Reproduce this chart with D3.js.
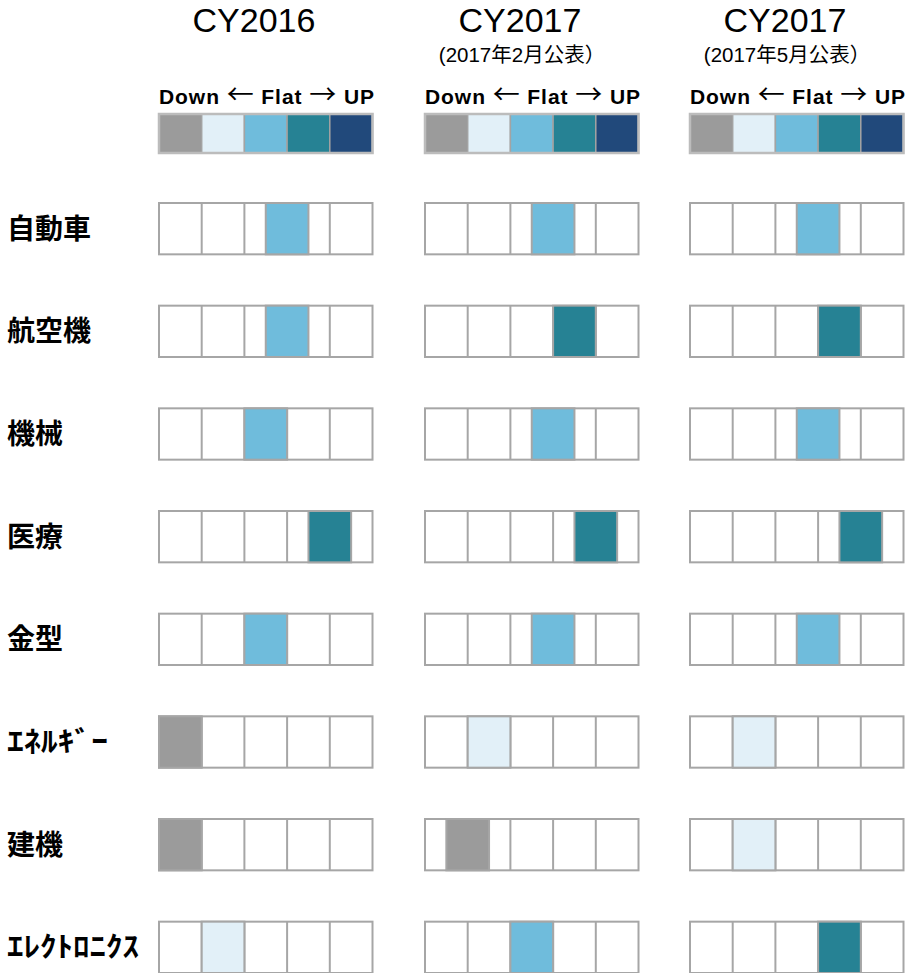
<!DOCTYPE html>
<html>
<head>
<meta charset="utf-8">
<script src="https://cdn.jsdelivr.net/npm/d3@7"></script>
<style>
  body { margin: 0; background: #fff; }
</style>
</head>
<body>
<svg class="chart_svg"></svg>
<script>
// rows (industries)
var categories = ["自動車", "航空機", "機械", "医療", "金型", "ｴﾈﾙｷﾞｰ", "建機", "ｴﾚｸﾄﾛﾆｸｽ"];
// panel headings
var panelTitles = ["CY2016", "CY2017", "CY2017"];
var panelNotes = ["", "(2017年2月公表）", "(2017年5月公表）"];
// position of the marker (left edge, in cells: 0 = Down ... 4 = UP)
var cy2016 = [2.5, 2.5, 2, 3.5, 2, 0, 0, 1];
var cy2017Feb = [2.5, 3, 2.5, 3.5, 2.5, 1, 0.5, 2];
var cy2017May = [2.5, 3, 2.5, 3.5, 2.5, 1, 1, 3];
// legend levels
var levels = [0, 1, 2, 3, 4];
var levelColors = ["#9b9b9b", "#e2f0f8", "#6fbcdc", "#268294", "#21497b"];

var series = [cy2016, cy2017Feb, cy2017May];

var W = 906, H = 973;
var svg = d3.select(".chart_svg").attr("width", W).attr("height", H);

var panelX = [159, 425, 690];
var boxW = 213.5;

var y_scale = d3.scaleBand().domain(categories).range([203, 973]).paddingInner(0.5).paddingOuter(0);
var color = d3.scaleThreshold().domain([1, 2, 3, 4]).range(levelColors);

// row labels
svg.selectAll(".row_label").data(categories).join("text")
  .attr("class", "row_label")
  .attr("x", 7)
  .attr("y", d => y_scale(d) + y_scale.bandwidth() / 2 + 10)
  .style("font-family", "'Noto Sans CJK JP', sans-serif")
  .style("font-weight", "bold")
  .style("font-size", "28px")
  .attr("textLength", d => d === "ｴﾈﾙｷﾞｰ" ? 101 : (d === "ｴﾚｸﾄﾛﾆｸｽ" ? 132 : null))
  .attr("lengthAdjust", "spacingAndGlyphs")
  .text(d => d);

series.forEach(function(vals, p) {
  var x0 = panelX[p];
  var x_scale = d3.scaleLinear().domain([0, 5]).range([x0, x0 + boxW]);
  var g = svg.append("g").attr("class", "panel_" + p);
  var cx = x0 + 95;

  // title
  g.append("text")
    .attr("x", cx).attr("y", 32)
    .attr("text-anchor", "middle")
    .style("font-family", "'Liberation Sans', Arial, sans-serif")
    .style("font-size", "34px")
    .text(panelTitles[p]);

  if (panelNotes[p]) {
    g.append("text")
      .attr("x", cx + 2).attr("y", 62)
      .attr("text-anchor", "middle")
      .style("font-family", "'Liberation Sans', 'Noto Sans CJK JP', sans-serif")
      .style("font-size", "20.5px")
      .text(panelNotes[p]);
  }

  // Down <- Flat -> UP
  var lt = g.append("text")
    .attr("x", x0).attr("y", 104)
    .attr("textLength", 215)
    .attr("lengthAdjust", "spacing")
    .style("font-family", "'Liberation Sans', Arial, sans-serif")
    .style("font-weight", "bold")
    .style("font-size", "21px");
  lt.append("tspan").text("Down ");
  lt.append("tspan").style("font-family", "'Noto Sans CJK JP'").style("font-weight", "normal").style("font-size", "27px").text("←");
  lt.append("tspan").text(" Flat ");
  lt.append("tspan").style("font-family", "'Noto Sans CJK JP'").style("font-weight", "normal").style("font-size", "27px").text("→");
  lt.append("tspan").text(" UP");

  // legend
  g.selectAll(".legend_cell").data(levels).join("rect")
    .attr("class", "legend_cell")
    .attr("x", d => x_scale(d))
    .attr("y", 114)
    .attr("width", x_scale(1) - x_scale(0))
    .attr("height", 39)
    .style("fill", d => levelColors[d])
    .style("stroke", "#a3a3a3")
    .style("stroke-width", 1.5);
  g.append("rect")
    .attr("x", x_scale(0)).attr("y", 114)
    .attr("width", x_scale(5) - x_scale(0)).attr("height", 39)
    .style("fill", "none")
    .style("stroke", "#bcbcbc")
    .style("stroke-width", 2.5);

  // rows
  var rows = g.selectAll(".row").data(categories).join("g")
    .attr("class", "row")
    .attr("transform", d => `translate(0, ${y_scale(d)})`);

  rows.append("rect")
    .attr("x", x_scale(0)).attr("y", 0)
    .attr("width", x_scale(5) - x_scale(0))
    .attr("height", y_scale.bandwidth())
    .style("fill", "#fff")
    .style("stroke", "#a6a6a6")
    .style("stroke-width", 2);

  rows.selectAll(".grid").data([1, 2, 3, 4]).join("line")
    .attr("class", "grid")
    .attr("x1", d => x_scale(d)).attr("x2", d => x_scale(d))
    .attr("y1", 0).attr("y2", y_scale.bandwidth())
    .style("stroke", "#a6a6a6")
    .style("stroke-width", 2);

  rows.append("rect")
    .attr("x", (d, i) => x_scale(vals[i]))
    .attr("y", 0)
    .attr("width", x_scale(1) - x_scale(0))
    .attr("height", y_scale.bandwidth())
    .style("fill", (d, i) => color(vals[i]))
    .style("stroke", "#a6a6a6")
    .style("stroke-width", 2);
});
</script>
</body>
</html>
